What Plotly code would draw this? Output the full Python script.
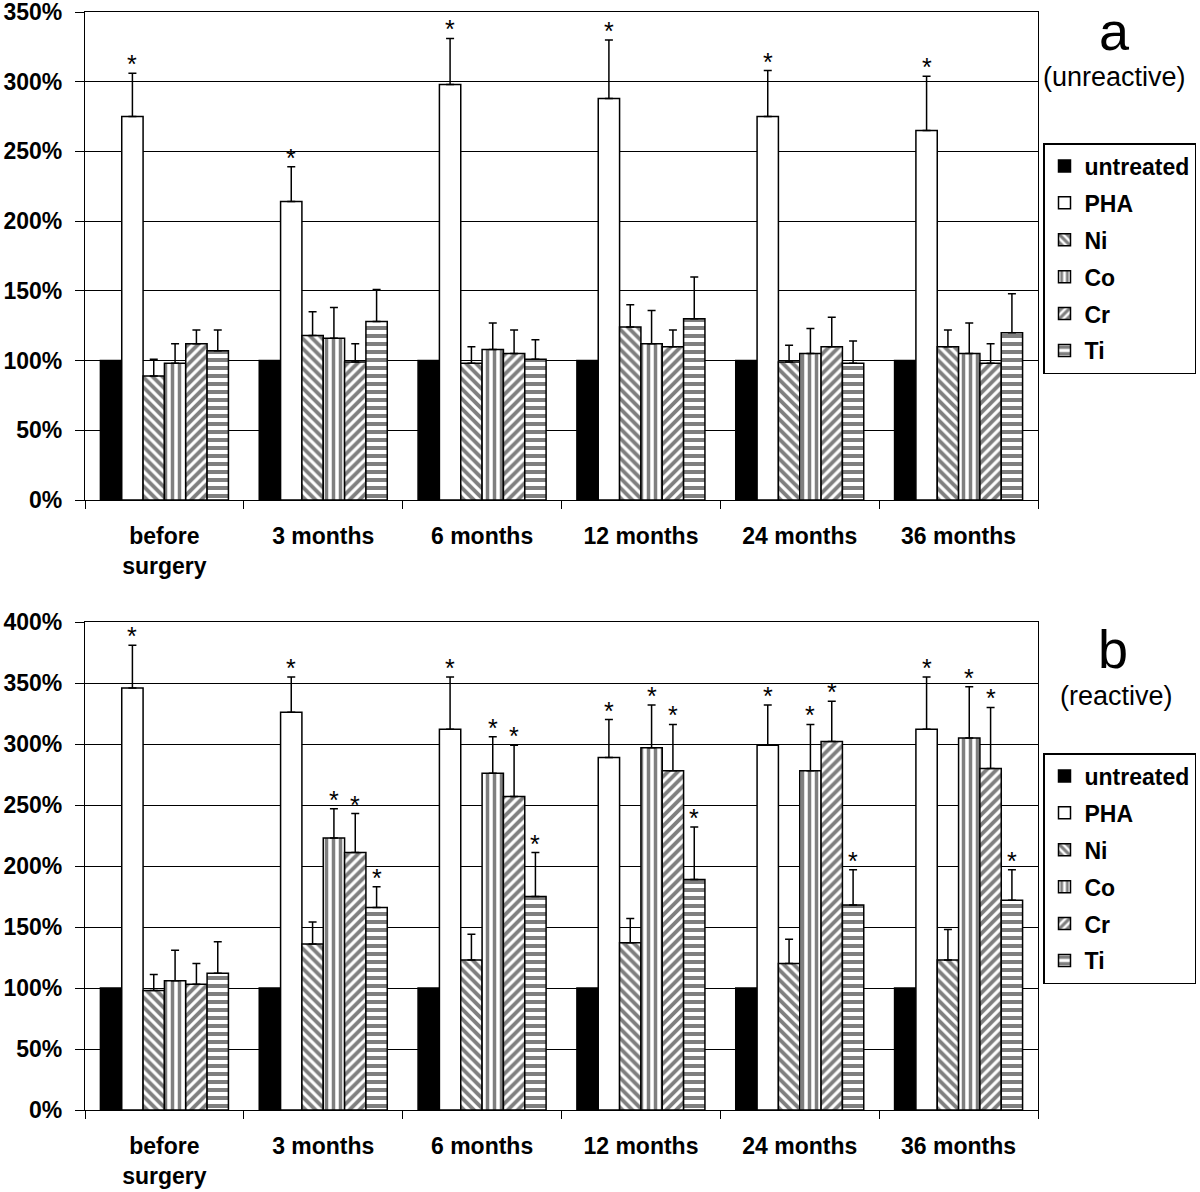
import plotly.graph_objects as go

categories = ["before<br>surgery", "3 months", "6 months", "12 months", "24 months", "36 months"]
series_names = ["untreated", "PHA", "Ni", "Co", "Cr", "Ti"]

# ---- panel a (unreactive): mean proliferation (%) ----
a_untreated = [100, 100, 100, 100, 100, 100]
a_pha = [275, 214, 298, 288, 275, 265]
a_ni = [89, 118, 98, 124, 99, 110]
a_co = [98, 116, 108, 112, 105, 105]
a_cr = [112, 99, 105, 110, 110, 98]
a_ti = [107, 128, 101, 130, 98, 120]
# upper error (%)
a_untreated_err = [0, 0, 0, 0, 0, 0]
a_pha_err = [31, 25, 33, 42, 33, 39]
a_ni_err = [12, 17, 12, 16, 12, 12]
a_co_err = [14, 22, 19, 24, 18, 22]
a_cr_err = [10, 13, 17, 12, 21, 14]
a_ti_err = [15, 23, 14, 30, 16, 28]
# significance markers
a_untreated_sig = [0, 0, 0, 0, 0, 0]
a_pha_sig = [1, 1, 1, 1, 1, 1]
a_ni_sig = [0, 0, 0, 0, 0, 0]
a_co_sig = [0, 0, 0, 0, 0, 0]
a_cr_sig = [0, 0, 0, 0, 0, 0]
a_ti_sig = [0, 0, 0, 0, 0, 0]

# ---- panel b (reactive) ----
b_untreated = [100, 100, 100, 100, 100, 100]
b_pha = [346, 326, 312, 289, 299, 312]
b_ni = [98, 136, 123, 137, 120, 123]
b_co = [106, 223, 276, 297, 278, 305]
b_cr = [103, 211, 257, 278, 302, 280]
b_ti = [112, 166, 175, 189, 168, 172]
b_untreated_err = [0, 0, 0, 0, 0, 0]
b_pha_err = [35, 29, 43, 31, 33, 43]
b_ni_err = [13, 18, 21, 20, 20, 25]
b_co_err = [25, 24, 30, 35, 38, 42]
b_cr_err = [17, 32, 42, 38, 33, 50]
b_ti_err = [26, 17, 36, 43, 29, 25]
b_untreated_sig = [0, 0, 0, 0, 0, 0]
b_pha_sig = [1, 1, 1, 1, 1, 1]
b_ni_sig = [0, 0, 0, 0, 0, 0]
b_co_sig = [0, 1, 1, 1, 1, 1]
b_cr_sig = [0, 1, 1, 1, 1, 1]
b_ti_sig = [0, 1, 1, 1, 1, 1]

y_ticks_a = [0, 50, 100, 150, 200, 250, 300, 350]
y_labels_a = ["0%", "50%", "100%", "150%", "200%", "250%", "300%", "350%"]
y_ticks_b = [0, 50, 100, 150, 200, 250, 300, 350, 400]
y_labels_b = ["0%", "50%", "100%", "150%", "200%", "250%", "300%", "350%", "400%"]

panel_a = [
    (a_untreated, a_untreated_err, a_untreated_sig),
    (a_pha, a_pha_err, a_pha_sig),
    (a_ni, a_ni_err, a_ni_sig),
    (a_co, a_co_err, a_co_sig),
    (a_cr, a_cr_err, a_cr_sig),
    (a_ti, a_ti_err, a_ti_sig),
]
panel_b = [
    (b_untreated, b_untreated_err, b_untreated_sig),
    (b_pha, b_pha_err, b_pha_sig),
    (b_ni, b_ni_err, b_ni_sig),
    (b_co, b_co_err, b_co_sig),
    (b_cr, b_cr_err, b_cr_sig),
    (b_ti, b_ti_err, b_ti_sig),
]

# styles
FONT = "Liberation Sans, Arial, Helvetica, sans-serif"
fills = ["black", "white", "white", "white", "white", "white"]
shapes = ["", "", "\\", "|", "/", "-"]
psizes = [8, 8, 7, 7, 7, 8]
psolid = [0.3, 0.3, 0.55, 0.5, 0.55, 0.5]

W, H = 1200, 1192
ML, MR, MT, MB = 85, 162, 12, 82
BARGAP = 0.194
plot_w = W - ML - MR
bar_px = plot_w / len(categories) * (1 - BARGAP) / len(series_names)

fig = go.Figure()
annotations = []

for pi, (panel, xa, ya, leg) in enumerate([(panel_a, "x", "y", "legend"), (panel_b, "x2", "y2", "legend2")]):
    for si, (vals, errs, sigs) in enumerate(panel):
        has_err = any(e > 0 for e in errs)
        fig.add_trace(go.Bar(
            x=categories, y=vals, name=series_names[si],
            xaxis=xa, yaxis=ya, legend=leg,
            legendgroup=f"{leg}_{si}",
            marker=dict(
                color=fills[si],
                line=dict(color="black", width=1.5),
                pattern=dict(shape=shapes[si], fgcolor="black", bgcolor="white",
                             size=psizes[si], solidity=psolid[si]) if shapes[si] else None,
            ),
            error_y=dict(type="data", symmetric=False, array=errs,
                         arrayminus=[0] * len(errs), color="black",
                         thickness=1.5, width=4, visible=has_err),
            hoverinfo="skip",
        ))
        for ci, cat in enumerate(categories):
            if sigs[ci]:
                annotations.append(dict(
                    x=cat, y=vals[ci] + errs[ci], xref=xa, yref=ya,
                    text="*", showarrow=False, yanchor="bottom",
                    xshift=(si - 2.5) * bar_px, yshift=-7,
                    font=dict(family=FONT, size=25, color="black"),
                ))

plot_h = H - MT - MB
dom_a = [1 - 488 / plot_h, 1]
dom_b = [0, 488 / plot_h]

def yconv(py):
    return 1 - (py - MT) / plot_h

def xconv(px):
    return (px - ML) / plot_w

annotations += [
    dict(text="a", x=xconv(1114), y=yconv(31), xref="paper", yref="paper",
         showarrow=False, xanchor="center", yanchor="middle",
         font=dict(family=FONT, size=54, color="black")),
    dict(text="(unreactive)", x=xconv(1114), y=yconv(77), xref="paper", yref="paper",
         showarrow=False, xanchor="center", yanchor="middle",
         font=dict(family=FONT, size=27, color="black")),
    dict(text="b", x=xconv(1113), y=yconv(649), xref="paper", yref="paper",
         showarrow=False, xanchor="center", yanchor="middle",
         font=dict(family=FONT, size=54, color="black")),
    dict(text="(reactive)", x=xconv(1116), y=yconv(696), xref="paper", yref="paper",
         showarrow=False, xanchor="center", yanchor="middle",
         font=dict(family=FONT, size=27, color="black")),
]

xaxis_common = dict(
    type="category", tickson="boundaries", ticks="outside", ticklen=8,
    tickcolor="black", tickwidth=1.3, showline=True, linecolor="black",
    linewidth=1.3, mirror=True, showgrid=False, ticklabelstandoff=15,
    tickfont=dict(family=FONT, size=23, color="black", weight="bold"),
)
yaxis_common = dict(
    ticks="outside", ticklen=9, tickcolor="black", tickwidth=1.3,
    showline=True, linecolor="black", linewidth=1.3, mirror=True,
    showgrid=True, gridcolor="black", gridwidth=1.3, zeroline=False,
    ticklabelstandoff=8, ticklabeloverflow="allow",
    tickfont=dict(family=FONT, size=23, color="black", weight="bold"),
)

legend_common = dict(
    bordercolor="black", borderwidth=1.5, bgcolor="white",
    font=dict(family=FONT, size=23, color="black", weight="bold"),
    tracegroupgap=4, xanchor="left", yanchor="top", itemclick=False,
    traceorder="grouped",
)

fig.update_layout(
    width=W, height=H,
    margin=dict(l=ML, r=MR, t=MT, b=MB, autoexpand=False),
    paper_bgcolor="white", plot_bgcolor="white",
    barmode="group", bargap=BARGAP, bargroupgap=0,
    font=dict(family=FONT, color="black"),
    xaxis=dict(domain=[0, 1], anchor="y", **xaxis_common),
    yaxis=dict(domain=dom_a, anchor="x", range=[0, 350], tickvals=y_ticks_a,
               ticktext=y_labels_a, **yaxis_common),
    xaxis2=dict(domain=[0, 1], anchor="y2", **xaxis_common),
    yaxis2=dict(domain=dom_b, anchor="x2", range=[0, 400], tickvals=y_ticks_b,
                ticktext=y_labels_b, **yaxis_common),
    legend=dict(x=xconv(1043), y=yconv(143), **legend_common),
    legend2=dict(x=xconv(1043), y=yconv(753), **legend_common),
    annotations=annotations,
    showlegend=True,
)

fig.write_html("out.html", config={"displayModeBar": False},
               post_script="document.body.style.margin='0px';")
